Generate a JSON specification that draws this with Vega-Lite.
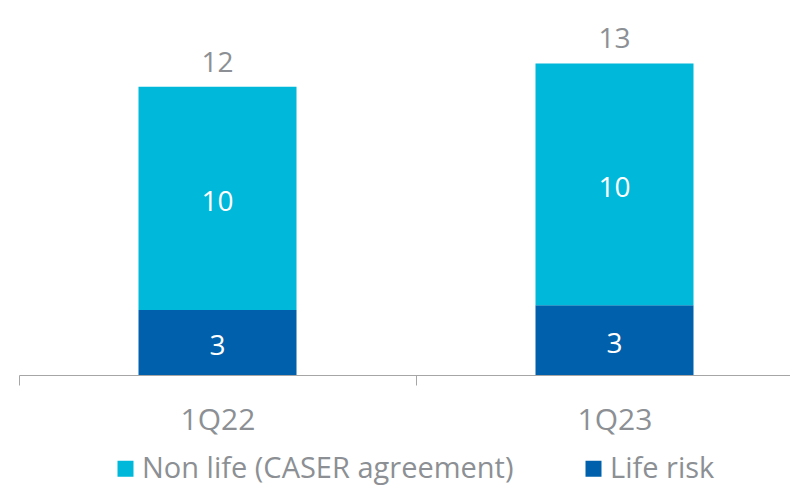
{
  "$schema": "https://vega.github.io/schema/vega-lite/v6.json",
  "autosize": "none",
  "width": 771,
  "height": 375,
  "padding": {"left": 19, "top": 0, "right": 0, "bottom": 111},
  "background": "white",
  "config": {
    "view": {"stroke": null},
    "font": "Open Sans"
  },
  "data": {
    "values": [
      {"quarter": "1Q22", "type": "Life risk", "order": 1, "value": 2.8},
      {"quarter": "1Q22", "type": "Non life (CASER agreement)", "order": 2, "value": 9.6},
      {"quarter": "1Q23", "type": "Life risk", "order": 1, "value": 3.0},
      {"quarter": "1Q23", "type": "Non life (CASER agreement)", "order": 2, "value": 10.4}
    ]
  },
  "encoding": {
    "x": {
      "field": "quarter",
      "type": "nominal",
      "title": null,
      "scale": {"range": [0, 794], "paddingInner": 0, "paddingOuter": 0},
      "axis": {
        "tickBand": "extent",
        "domainColor": "#a6a6a6",
        "tickColor": "#a6a6a6",
        "tickSize": 10,
        "labelAngle": 0,
        "labelFontSize": 30,
        "labelColor": "#8c9094",
        "labelPadding": 20
      }
    }
  },
  "layer": [
    {
      "mark": {"type": "bar", "width": 158},
      "encoding": {
        "y": {
          "field": "value",
          "type": "quantitative",
          "aggregate": "sum",
          "stack": "zero",
          "scale": {"domain": [0, 16.13], "nice": false},
          "axis": null
        },
        "color": {
          "field": "type",
          "type": "nominal",
          "scale": {
            "domain": ["Non life (CASER agreement)", "Life risk"],
            "range": ["#00b8d9", "#0060ab"]
          },
          "legend": {
            "title": null,
            "orient": "none",
            "direction": "horizontal",
            "legendX": 92,
            "legendY": 454,
            "symbolType": "square",
            "symbolSize": 256,
            "symbolStrokeWidth": 0,
            "labelFontSize": 29,
            "labelColor": "#8c9094",
            "labelOffset": 2,
            "labelLimit": 500,
            "columnPadding": 65
          }
        },
        "order": {"field": "order"}
      }
    },
    {
      "transform": [
        {"stack": "value", "groupby": ["quarter"], "sort": [{"field": "order"}], "as": ["v0", "v1"]},
        {"calculate": "(datum.v0 + datum.v1) / 2", "as": "mid"}
      ],
      "mark": {"type": "text", "color": "white", "fontSize": 28, "baseline": "middle", "dy": 5},
      "encoding": {
        "y": {"field": "mid", "type": "quantitative"},
        "text": {"field": "value", "type": "quantitative", "format": ".0f"}
      }
    },
    {
      "transform": [
        {"aggregate": [{"op": "sum", "field": "value", "as": "total"}], "groupby": ["quarter"]}
      ],
      "mark": {"type": "text", "color": "#8c9094", "fontSize": 28, "baseline": "bottom", "dy": -9},
      "encoding": {
        "y": {"field": "total", "type": "quantitative"},
        "text": {"field": "total", "type": "quantitative", "format": ".0f"}
      }
    }
  ]
}
